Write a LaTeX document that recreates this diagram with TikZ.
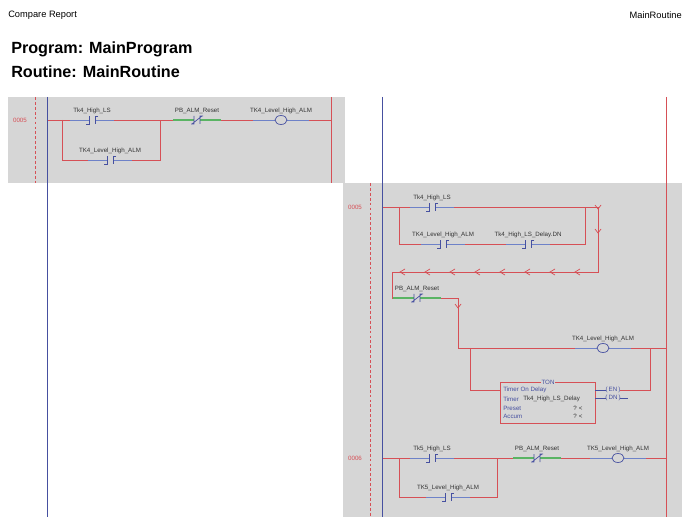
\documentclass[tikz,border=0pt]{standalone}
\usepackage{fontspec}
\setmainfont{Liberation Sans}
\usetikzlibrary{arrows.meta}

\definecolor{rungred}{RGB}{214,80,86}
\definecolor{railblue}{RGB}{70,80,160}
\definecolor{wireblue}{RGB}{110,130,200}
\definecolor{panelgray}{RGB}{214,214,214}
\definecolor{resetgreen}{RGB}{90,180,100}

\tikzset{
  rung/.style={rungred, line width=0.5pt},
  rail/.style={railblue, line width=0.6pt},
  dash rail/.style={rungred, dashed, dash pattern=on 2pt off 1.5pt, line width=0.4pt},
  tag/.style={font=\fontsize{4.4}{5}\selectfont, inner sep=0pt, text=black!80},
  rungno/.style={font=\fontsize{4.4}{5}\selectfont, inner sep=0pt, text=rungred},
  chev/.style={rungred, line width=0.5pt}
}

% contact at (x,y) with its tag
\newcommand{\contactNO}[3]{%
  \fill[panelgray] (#1-3,#2-1) rectangle (#1+3,#2+1);
  \draw[wireblue, line width=0.6pt] (#1-22,#2) -- (#1-3,#2) (#1+3,#2) -- (#1+22,#2);
  \draw[railblue, line width=0.5pt] (#1-6,#2+4) -- (#1-3,#2+4) -- (#1-3,#2-4)
        (#1+6,#2-4) -- (#1+3,#2-4) -- (#1+3,#2+4);
  \node[tag] at (#1,#2-9) {#3};}
\newcommand{\contactNC}[3]{%
  \draw[resetgreen, line width=1.6pt] (#1-24,#2) -- (#1-3,#2) (#1+3,#2) -- (#1+24,#2);
  \fill[panelgray] (#1-3,#2-1) rectangle (#1+3,#2+1);
  \draw[railblue, line width=0.5pt] (#1-6,#2+4) -- (#1-3,#2+4) -- (#1-3,#2-4)
        (#1+6,#2-4) -- (#1+3,#2-4) -- (#1+3,#2+4) (#1-5,#2+4) -- (#1+5,#2-4);
  \node[tag] at (#1,#2-9) {#3};}
\newcommand{\coil}[3]{%
  \draw[wireblue, line width=0.6pt] (#1-28,#2) -- (#1-6,#2) (#1+6,#2) -- (#1+28,#2);
  \draw[railblue, fill=panelgray, line width=0.5pt] (#1,#2) ellipse (6 and 4.5);
  \node[tag] at (#1,#2-9) {#3};}

\begin{document}
\begin{tikzpicture}[x=0.025cm, y=-0.025cm]
  \useasboundingbox (0,0) rectangle (690,517);
  \fill[white] (0,0) rectangle (690,517);

  % header
  \node[anchor=west, font=\fontsize{6.6}{7}\selectfont, inner sep=0pt] (hdl) at (8,15) {Compare Report};
  \node[anchor=east, font=\fontsize{6.6}{7}\selectfont, inner sep=0pt] (hdr) at (682,15) {MainRoutine};
  \node[anchor=west, font=\fontsize{11.5}{12}\selectfont\bfseries, inner sep=0pt] (prog) at (11,49) {Program: MainProgram};
  \node[anchor=west, font=\fontsize{11.5}{12}\selectfont\bfseries, inner sep=0pt] (rout) at (11,72) {Routine: MainRoutine};

  % panels
  \fill[panelgray] (8,97) rectangle (345,183);
  \fill[panelgray] (343,183) rectangle (682,517);

  % left side, rung 0005
  \draw[dash rail] (35,97) -- (35,183);
  \draw[rung] (331,97) -- (331,183);
  \node[rungno] (nL) at (20,120) {0005};
  \draw[rung] (47,120) -- (331,120);
  \draw[rung] (62,120) -- (62,160) -- (160,160) -- (160,120);
  \contactNO{92}{120}{Tk4\_High\_LS}
  \contactNO{110}{160}{TK4\_Level\_High\_ALM}
  \contactNC{197}{120}{PB\_ALM\_Reset}
  \coil{281}{120}{TK4\_Level\_High\_ALM}
  \draw[rail] (47,97) -- (47,517);

  % right side, rung 0005
  \draw[dash rail] (370,183) -- (370,517);
  \draw[rung] (666,97) -- (666,517);
  \node[rungno] (nR1) at (355,207) {0005};
  \draw[rung] (382,207) -- (598,207) -- (598,272) -- (392,272) -- (392,298) -- (458,298) -- (458,348) -- (666,348);
  \draw[rung] (399,207) -- (399,244) -- (585,244) -- (585,207);
  \contactNO{432}{207}{Tk4\_High\_LS}
  \contactNO{443}{244}{TK4\_Level\_High\_ALM}
  \contactNO{528}{244}{Tk4\_High\_LS\_Delay.DN}
  \foreach \cx in {400,425,...,575}
    \draw[chev] (\cx+5,269) -- (\cx,272) -- (\cx+5,275);
  \foreach \cy in {209,233}
    \draw[chev] (595,\cy-4) -- (598,\cy) -- (601,\cy-4);
  \draw[chev] (455,304) -- (458,308) -- (461,304);
  \contactNC{417}{298}{PB\_ALM\_Reset}
  \coil{603}{348}{TK4\_Level\_High\_ALM}

  % timer branch
  \draw[rung] (470,348) -- (470,390) -- (500,390);
  \draw[rung] (500,382) rectangle (595,423);
  \node[font=\fontsize{4.4}{5}\selectfont, inner sep=0.6pt, fill=panelgray, text=railblue] (ton) at (548,382) {TON};
  \node[tag, anchor=west, text=railblue] (t1) at (503,390) {Timer On Delay};
  \node[tag, anchor=west, text=railblue] (t2) at (503,399) {Timer};
  \node[tag, anchor=west] (t2v) at (523,399) {Tk4\_High\_LS\_Delay};
  \node[tag, anchor=west, text=railblue] (t3) at (503,408) {Preset};
  \node[tag, anchor=west, text=railblue] (t4) at (503,416) {Accum};
  \node[tag] (p3) at (578,408) {?\,\,<};
  \node[tag] (p4) at (578,416) {?\,\,<};
  \draw[railblue, line width=0.5pt] (595,390) -- (606,390) (595,398) -- (606,398);
  \node[tag, text=railblue] (en) at (613,390) {(\,EN\,)};
  \node[tag, text=railblue] (dn) at (613,398) {(\,DN\,)};
  \draw[rung] (620,390) -- (650,390) -- (650,348);
  \draw[railblue, line width=0.5pt] (620,398) -- (628,398);

  % rung 0006
  \node[rungno] (nR2) at (355,458) {0006};
  \draw[rung] (382,458) -- (666,458);
  \draw[rung] (399,458) -- (399,497) -- (497,497) -- (497,458);
  \contactNO{432}{458}{Tk5\_High\_LS}
  \contactNO{448}{497}{TK5\_Level\_High\_ALM}
  \contactNC{537}{458}{PB\_ALM\_Reset}
  \coil{618}{458}{TK5\_Level\_High\_ALM}
  \draw[rail] (382,97) -- (382,517);
\end{tikzpicture}
\end{document}
